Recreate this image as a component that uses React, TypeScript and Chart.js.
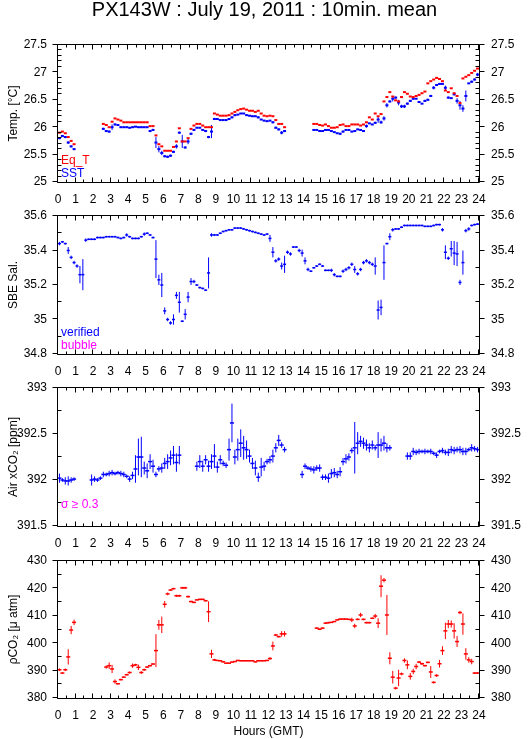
import React, { useEffect, useRef } from "react";
import { Chart, registerables } from "chart.js";
Chart.register(...registerables);

const FONT = '"Liberation Sans", "DejaVu Sans", Arial, sans-serif';
const TITLE = "PX143W : July 19, 2011 : 10min. mean";
const X_TITLE = "Hours (GMT)";
const RED = "#ff0000";
const BLUE = "#0000ff";
const MAGENTA = "#ff00ff";

// 10-minute slots, 144 per day
const N_SLOTS = 144;
const SLOT_HOURS = Array.from({ length: N_SLOTS }, (_, i) => (i + 0.5) / 6);

const _ = null;

// ---------- Panel 1 : temperature ----------
const eqT = [25.90,25.92,25.89,25.82,25.75,25.69, _,_,_,_,_,_,_,_,_,
 26.06,26.04,26.00,26.10,26.16,26.14,26.12,
 26.09,26.09,26.09,26.09,26.09,26.09,26.09,26.09,26.09,
 26.02,26.02,
 25.85,25.69,25.65,25.57,25.57,25.57,25.64,25.74,25.98,25.74,25.74,25.80,
 25.97,26.03,26.06,26.06,26.03,26.00,26.00,26.00,
 26.25,26.23,26.21,26.21,26.21,26.22,
 26.25,26.28,26.31,26.33,26.34,26.32,26.30,26.30,26.28,
 26.30,26.25,26.21,26.20,26.21,26.20,26.13,26.06,26.06,26.00,
 _,_,_,_,_,_,_,_,_,
 26.06,26.06,26.04,26.03,26.05,26.02,25.99,25.99,26.00,26.04,26.05,26.02,26.02,26.05,26.05,26.05,26.03,
 26.05,26.09,26.18,26.14,26.25,26.20,26.24,
 26.47,26.55,26.64,26.56,26.49,26.47,26.55,26.64,26.61,26.56,26.55,26.57,26.59,26.62,26.65,
 26.80,26.84,26.87,26.90,26.88,26.84,26.67,26.64,26.71,26.62,26.57,26.44,26.89,26.92,26.95,26.99,27.03,27.07];

const sst = [25.80,25.84,25.82,25.72,25.65,25.60, _,_,_,_,_,_,_,_,_,
 25.97,25.93,25.92,26.00,26.05,26.04,26.00,
 26.00,26.00,25.99,26.00,26.01,26.00,26.00,26.00,26.00,
 25.93,25.95,
 25.72,25.60,25.53,25.47,25.46,25.48,25.55,25.65,25.90,25.74,25.63,25.74,
 25.88,25.95,25.99,25.99,25.95,25.93,25.82,25.92,
 26.15,26.15,26.13,26.13,26.13,26.15,
 26.18,26.22,26.23,26.25,26.25,26.22,26.21,26.20,26.20,
 26.18,26.14,26.12,26.11,26.12,26.09,25.99,25.96,25.90,25.93,
 _,_,_,_,_,_,_,_,_,
 25.95,25.95,25.93,25.93,25.95,25.95,25.93,25.91,25.89,25.88,25.92,25.95,25.95,25.92,25.93,25.96,25.95,
 25.93,26.02,26.07,26.05,26.08,26.14,26.09,26.16,
 26.40,26.47,26.52,26.54,26.45,26.38,26.38,26.43,26.48,26.52,26.52,26.46,26.43,26.48,26.50,26.57,
 26.72,26.77,26.79,26.79,26.72,26.54,26.53,26.60,26.48,26.40,26.34,26.57,26.80,26.83,26.87,26.96];

const sstErr = [.02,.02,.02,.025,.02,.02, 0,0,0,0,0,0,0,0,0,
 .02,.02,.02,.05,.02,.015,.01,
 .01,.01,.01,.01,.01,.01,.01,.01,.01,
 .02,.02,
 .10,.06,.04,.02,.02,.02,.02,.04,.02,.12,.02,.05,
 .02,.02,.01,.01,.01,.02,.02,.12,
 .02,.01,.01,.01,.01,.01,
 .02,.02,.01,.01,.01,.01,.01,.01,.01,
 .02,.01,.01,.01,.01,.02,.02,.02,.03,.02,
 0,0,0,0,0,0,0,0,0,
 .01,.01,.01,.01,.01,.01,.01,.01,.01,.02,.02,.01,.01,.01,.01,.01,.01,
 .01,.03,.01,.01,.02,.06,.03,.04,
 .04,.02,.05,.02,.05,.03,.03,.02,.02,.02,.01,.02,.01,.02,.02,.02,
 .03,.02,.01,.01,.04,.02,.01,.02,.05,.08,.06,.10,.01,.02,.02,.03];

// ---------- Panel 2 : salinity ----------
const sal = [35.44,35.45,35.44,35.40,35.36,35.33,35.31,35.26,35.26,
 35.46,35.465,35.465,35.465,35.475,35.475,35.475,35.48,35.48,35.48,35.48,35.475,35.47,35.475,35.49,35.48,35.47,35.47,35.47,35.48,35.495,35.50,35.49,35.475,35.35,
 35.23,35.20,35.05,35.00,34.98,35.00,35.14,35.10,34.99,35.03,35.13,35.22,35.22,35.20,35.185,35.18,35.17,35.27,
 35.49,35.49,35.49,35.50,35.51,35.515,35.52,35.52,35.53,35.53,35.53,35.525,35.52,35.515,35.51,35.505,35.50,35.495,35.49,35.495,35.47,
 35.39,35.34,35.35,35.31,35.32,35.39,35.38,35.42,35.42,35.40,35.385,35.34,35.29,35.28,35.30,35.31,35.32,35.31,35.285,35.285,35.285,35.26,35.25,35.25,35.28,35.29,35.30,35.32,35.29,35.265,35.29,35.33,35.34,35.33,35.32,35.31,35.055,35.07,35.33,
 35.44,35.48,35.52,35.525,35.525,35.535,35.545,35.545,35.545,35.545,35.545,35.545,35.545,35.54,35.54,35.54,35.545,35.55,35.55,35.52,
 35.39,35.355,35.41,35.385,35.38,35.215,35.33,35.515,35.525,35.545,35.55,35.553];

const salErr = [.01,.005,.005,.02,.01,.01,.01,.05,.09,
 .01,.005,.005,.005,.005,.005,.005,.005,.005,.005,.005,.005,.005,.005,.01,.005,.005,.005,.005,.005,.01,.005,.005,.005,.11,
 .03,.07,.02,.01,.01,.03,.02,.06,.005,.03,.03,.02,.01,.005,.005,.005,.005,.09,
 .01,.005,.005,.005,.005,.005,.005,.005,.005,.005,.005,.005,.005,.005,.005,.005,.005,.005,.005,.005,.02,
 .03,.01,.01,.02,.05,.01,.01,.005,.005,.01,.02,.02,.01,.005,.005,.005,.005,.005,.005,.005,.01,.01,.005,.005,.01,.01,.01,.01,.02,.01,.01,.01,.01,.01,.01,.05,.055,.045,.10,
 .005,.02,.01,.005,.005,.005,.005,.005,.005,.005,.005,.005,.005,.005,.005,.005,.005,.005,.005,.01,
 .04,.01,.045,.07,.07,.015,.07,.01,.01,.005,.005,.005];

// ---------- Panel 3 : air xCO2 ----------
const xco2 = [392.02,392.00,391.99,391.99,392.00,392.01, _,_,_,_,_,
 392.00,392.01,392.00,392.02,392.06,392.06,392.07,392.08,392.07,392.08,392.07,392.06,392.04,392.01,392.05,392.12,392.25,392.25,392.13,392.10,392.20,392.15,392.06,392.12,392.13,392.18,392.20,392.24,392.27,392.19,392.27,
 _,_,_,_,_,
 392.15,392.20,392.15,392.22,392.15,392.20,392.26,392.14,392.22,392.18,392.16,392.33,392.62,392.25,392.33,392.40,392.35,392.33,392.26,392.18,392.13,392.03,392.14,392.15,392.20,392.22,392.26,392.35,392.43,392.38,392.33,
 _,_,_,_,_,
 392.06,392.15,392.13,392.12,392.11,392.13,392.13,392.03,392.03,392.02,392.07,392.08,392.06,392.09,392.20,392.23,392.25,392.32,392.35,392.40,392.42,392.40,392.38,392.35,392.38,392.35,392.38,392.38,392.40,392.35,392.35,
 _,_,_,_,_,
 392.26,392.26,392.31,392.30,392.31,392.31,392.31,392.31,392.31,392.29,392.27,392.31,392.32,392.30,392.30,392.33,392.32,392.33,392.33,392.31,392.31,392.33,392.35,392.34,392.33];

const xco2Err = [.05,.02,.04,.05,.03,.02, 0,0,0,0,0,
 .06,.03,.02,.02,.03,.02,.03,.03,.02,.02,.03,.03,.02,.03,.04,.15,.20,.22,.07,.08,.08,.07,.03,.03,.05,.06,.08,.08,.10,.10,.10,
 0,0,0,0,0,
 .05,.07,.06,.05,.06,.08,.13,.06,.05,.03,.03,.12,.21,.08,.12,.15,.13,.10,.07,.06,.08,.05,.10,.05,.03,.04,.07,.05,.06,.03,.03,
 0,0,0,0,0,
 .04,.03,.02,.03,.04,.03,.04,.03,.03,.05,.05,.05,.04,.05,.04,.05,.04,.03,.28,.12,.06,.06,.06,.05,.05,.03,.14,.07,.08,.05,.03,
 0,0,0,0,0,
 .04,.04,.04,.03,.03,.02,.03,.02,.03,.02,.03,.02,.03,.03,.04,.04,.04,.03,.04,.04,.04,.02,.04,.03,.03];

// ---------- Panel 4 : pCO2 ----------
const pco2 = [390.3,389.1,390.3,395.0,404.8,407.6, _,_,_,_,_,_,_,_,_,_,
 391.3,391.8,390.6,386.0,385.2,386.7,387.6,388.5,389.3,391.8,392.1,391.2,389.3,390.3,391.3,391.8,392.4,397.3,406.7,406.7,414.2,418.0,419.4,419.9,417.3,417.3,420.2,420.2,417.0,415.2,414.9,415.8,416.0,416.0,415.5,411.5,396.1,393.9,393.7,393.6,393.2,392.7,392.7,393.1,393.3,393.7,393.6,393.6,393.6,393.6,393.6,393.2,393.6,393.6,393.6,393.7,394.4,399.0,403.0,402.4,403.4,403.4,
 _,_,_,_,_,_,_,_,_,_,
 405.5,405.1,405.5,407.3,407.5,407.6,407.9,408.5,408.8,408.8,408.8,408.7,408.5,406.3,408.7,410.3,408.7,407.5,407.5,409.1,409.9,407.3,420.8,423.0,410.3,394.5,387.6,383.6,387.3,388.8,393.7,392.1,387.9,389.7,
 391.5,393.1,392.5,391.8,393.0,389.5,385.7,388.2,392.5,397.3,404.5,407.0,407.0,404.5,400.6,411.2,407.0,396.1,393.9,393.3,389.1,389.1];

const pco2Err = [.5,.3,.5,2.8,1.5,1.0, 0,0,0,0,0,0,0,0,0,0,
 .6,1.2,1.5,.8,.3,.3,.3,.3,.4,.8,.4,1.0,.5,.4,.3,.3,.3,6.0,1.8,3.0,1.2,.5,.3,.3,.4,.4,.4,.4,.4,.3,.3,.2,.2,.2,.3,3.8,1.5,.4,.2,.2,.2,.2,.2,.2,.2,.2,.2,.2,.2,.2,.2,.2,.2,.2,.2,.2,.5,1.6,.4,.3,1.0,1.0,
 0,0,0,0,0,0,0,0,0,0,
 .3,.3,.3,.3,.3,.2,.2,.2,.2,.2,.2,.2,.8,.8,.3,.8,.3,.3,.3,.3,.8,1.8,4.0,.8,7.3,2.2,2.3,.5,3.0,.5,.8,1.6,1.2,1.0,
 1.0,.4,.4,.3,.3,2.2,.4,.5,1.4,1.6,3.0,1.5,1.3,2.8,2.0,.6,3.9,2.1,1.0,1.0,.3,.3];

// ---------- legends ----------
const LEGEND_TEMP = [{ t: "Eq_T", c: RED }, { t: "SST", c: BLUE }];
const LEGEND_SAL = [{ t: "verified", c: BLUE }, { t: "bubble", c: MAGENTA }];
const LEGEND_XCO2 = [{ t: "σ ≥ 0.3", c: MAGENTA }];
const LEGEND_PCO2: { t: string; c: string }[] = [];

type Series = { label: string; values: (number | null)[]; errors: number[] | null; color: string; width: number; radius: number };
type Panel = {
  yTitle: string; min: number; max: number; step: number; minor: number;
  canvasTop: number; padTop: number; plotH: number; xH: number;
  showTitle: boolean; showXTitle: boolean; series: Series[]; legend: { t: string; c: string }[];
};

const PANELS: Panel[] = [
  { yTitle: "Temp. [°C]", min: 25, max: 27.5, step: 0.5, minor: 0.1, canvasTop: 0, padTop: 0, plotH: 137, xH: 26,
    showTitle: true, showXTitle: false, legend: LEGEND_TEMP,
    series: [
      { label: "Eq_T", values: eqT, errors: null, color: RED, width: 2, radius: 1.5 },
      { label: "SST", values: sst, errors: sstErr, color: BLUE, width: 2, radius: 1.5 },
    ] },
  { yTitle: "SBE Sal.", min: 34.8, max: 35.6, step: 0.2, minor: 0.1, canvasTop: 196, padTop: 20, plotH: 138, xH: 26,
    showTitle: false, showXTitle: false, legend: LEGEND_SAL,
    series: [{ label: "verified", values: sal, errors: salErr, color: BLUE, width: 1.5, radius: 1.5 }] },
  { yTitle: "Air xCO₂ [ppm]", min: 391.5, max: 393, step: 0.5, minor: 0.25, canvasTop: 368, padTop: 20, plotH: 138, xH: 26,
    showTitle: false, showXTitle: false, legend: LEGEND_XCO2,
    series: [{ label: "xCO2", values: xco2, errors: xco2Err, color: BLUE, width: 1.5, radius: 2 }] },
  { yTitle: "ρCO₂ [μ atm]", min: 380, max: 430, step: 10, minor: 5, canvasTop: 541, padTop: 20, plotH: 137, xH: 41,
    showTitle: false, showXTitle: true, legend: LEGEND_PCO2,
    series: [{ label: "pCO2", values: pco2, errors: pco2Err, color: RED, width: 1.5, radius: 2 }] },
];

function canvasHeight(p: Panel) {
  return (p.showTitle ? 45 : p.padTop) + p.plotH + p.xH;
}

function makeFramePlugin(p: Panel) {
  return {
    id: "frameTicks",
    afterDraw(chart: any) {
      const { ctx, chartArea: a } = chart;
      const xs = chart.scales.x;
      const ys = chart.scales.y;
      const L = a.left - 0.5, R = a.right + 0.5, T = a.top - 0.5, B = a.bottom + 0.5;
      ctx.save();
      ctx.strokeStyle = "#000";
      ctx.lineWidth = 1;
      ctx.beginPath();
      ctx.rect(L, T, R - L, B - T);
      for (let k = 0; k <= 48; k++) {
        const px = Math.round(xs.getPixelForValue(k / 2)) - 0.5;
        const len = k % 2 === 0 ? 5 : 3;
        ctx.moveTo(px, B); ctx.lineTo(px, B - len);
        ctx.moveTo(px, T); ctx.lineTo(px, T + len);
      }
      const nMinor = Math.round((p.max - p.min) / p.minor);
      const perMajor = Math.round(p.step / p.minor);
      for (let k = 0; k <= nMinor; k++) {
        const v = p.min + k * p.minor;
        const py = Math.round(ys.getPixelForValue(v)) - 0.5;
        if (k % perMajor === 0) {
          ctx.moveTo(L, py); ctx.lineTo(L - 5, py);
          ctx.moveTo(R, py); ctx.lineTo(R + 5, py);
        } else {
          ctx.moveTo(L, py); ctx.lineTo(L + 4, py);
          ctx.moveTo(R, py); ctx.lineTo(R - 4, py);
        }
      }
      ctx.stroke();
      ctx.font = "12px " + FONT;
      ctx.textAlign = "left";
      ctx.textBaseline = "alphabetic";
      p.legend.forEach((it, k) => {
        ctx.fillStyle = it.c;
        ctx.fillText(it.t, a.left + 3, a.bottom - 18.5 + 13.5 * k);
      });
      ctx.restore();
    },
  };
}

const fmt = (v: any) => String(Number(Number(v).toFixed(3)));

function buildConfig(p: Panel): any {
  const datasets: any[] = [];
  p.series.forEach((s) => {
    if (s.errors) {
      const pts: any[] = [];
      SLOT_HOURS.forEach((x, i) => {
        const v = s.values[i];
        const e = s.errors![i];
        if (v == null || !e) return;
        pts.push({ x, y: v - e }, { x, y: v + e }, { x, y: null });
      });
      datasets.push({
        type: "scatter", label: s.label + " σ", data: pts, showLine: true, spanGaps: false,
        pointRadius: 0, pointHoverRadius: 0, borderColor: s.color, borderWidth: 1, fill: false,
      });
    }
    datasets.push({
      type: "scatter", label: s.label,
      data: SLOT_HOURS.map((x, i) => (s.values[i] == null ? null : { x, y: s.values[i] })).filter((d) => d !== null),
      pointStyle: "line", pointRadius: s.radius, pointHoverRadius: s.radius,
      borderColor: s.color, backgroundColor: s.color,
      pointBorderColor: s.color, pointBorderWidth: s.width, borderWidth: s.width, showLine: false,
    });
  });
  const tickFont = { size: 12, family: FONT };
  const yCommon = {
    min: p.min, max: p.max,
    grid: { display: false, drawTicks: false }, border: { display: false },
  };
  return {
    type: "scatter",
    data: { datasets },
    plugins: [makeFramePlugin(p)],
    options: {
      responsive: false, animation: false, events: [],
      layout: { padding: { top: p.showTitle ? 0 : p.padTop, left: 0, right: 0, bottom: 0 } },
      plugins: {
        legend: { display: false }, tooltip: { enabled: false },
        title: {
          display: p.showTitle, text: TITLE, color: "#000",
          font: { size: 20, family: FONT, weight: "normal", lineHeight: 1 },
          padding: { top: 0, bottom: 25 },
        },
      },
      scales: {
        x: {
          type: "linear", min: 0, max: 24,
          grid: { display: false, drawTicks: false }, border: { display: false },
          ticks: { stepSize: 1, autoSkip: false, maxRotation: 0, minRotation: 0, color: "#000", font: tickFont, padding: 10, callback: fmt },
          title: { display: p.showXTitle, text: X_TITLE, color: "#000", font: tickFont, padding: { top: 0, bottom: 0 } },
          afterFit: (s: any) => { s.height = p.xH; },
        },
        y: {
          ...yCommon, position: "left",
          ticks: { stepSize: p.step, color: "#000", font: tickFont, padding: 11, callback: fmt },
          title: { display: true, text: p.yTitle, color: "#000", font: tickFont, padding: { top: 6, bottom: 0 } },
          afterFit: (s: any) => { s.width = 58; },
        },
        y2: {
          ...yCommon, position: "right",
          ticks: { stepSize: p.step, color: "#000", font: tickFont, padding: 12, callback: fmt },
          afterFit: (s: any) => { s.width = 50; },
        },
      },
    },
  };
}

export default function App() {
  const refs = useRef<(HTMLCanvasElement | null)[]>([]);
  useEffect(() => {
    const charts = PANELS.map((p, k) => new Chart(refs.current[k] as HTMLCanvasElement, buildConfig(p)));
    return () => charts.forEach((c) => c.destroy());
  }, []);
  return (
    <div style={{ position: "absolute", left: 0, top: 0, width: 529, height: 739, background: "#fff", overflow: "hidden" }}>
      {PANELS.map((p, k) => (
        <canvas
          key={k}
          ref={(el) => { refs.current[k] = el; }}
          width={529}
          height={canvasHeight(p)}
          style={{ position: "absolute", left: 0, top: p.canvasTop, width: 529, height: canvasHeight(p) }}
        />
      ))}
    </div>
  );
}
